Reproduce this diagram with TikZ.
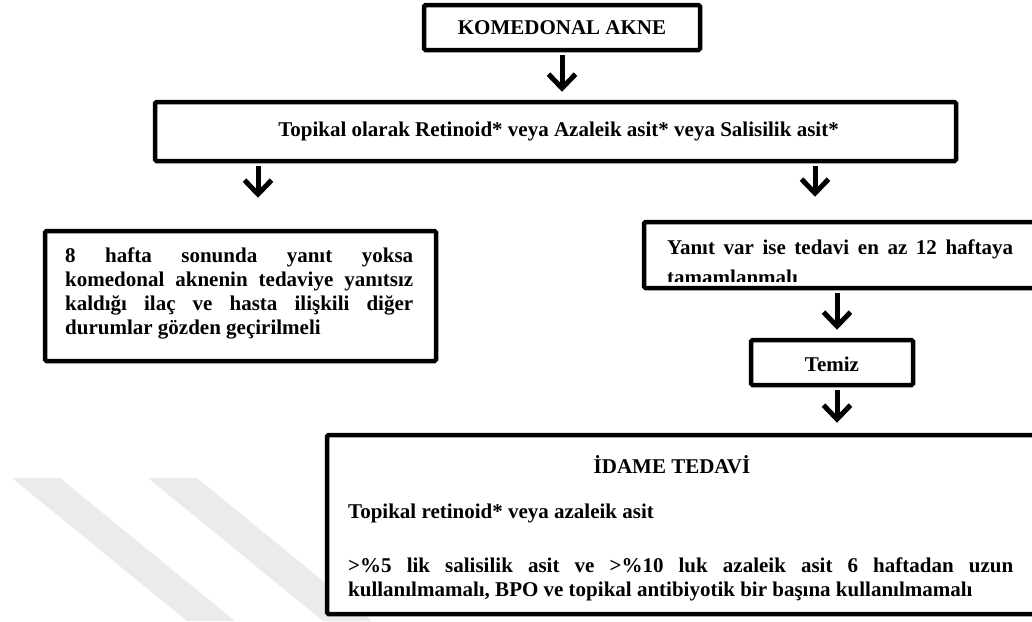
\documentclass[tikz,border=0pt]{standalone}
\usepackage{fontspec}
\setmainfont{Liberation Serif}
\usetikzlibrary{arrows.meta}
\begin{document}
\begin{tikzpicture}[x=1pt,y=-1pt,
  box/.style={draw, fill=white, line width=4.5pt, rounded corners=1.5pt, inner sep=0pt},
  txt/.style={font=\fontsize{21}{24}\selectfont\bfseries, inner sep=0pt},
  flow/.style={line width=5pt, -{Straight Barb[length=14pt,width=27pt]}},
  wmband/.style={fill=black!8, draw=none}
]
\useasboundingbox (0,0) rectangle (1032,621);
% faint watermark bands
\fill[wmband] (12,478) -- (60,478) -- (235,621) -- (187,621) -- cycle;
\fill[wmband] (148,478) -- (197,478) -- (372,621) -- (323,621) -- cycle;

% boxes
\node[box, minimum width=276pt, minimum height=45pt] (b1) at (562,27.5) {};
\node[box, minimum width=801pt, minimum height=59pt] (b2) at (555.5,131.5) {};
\node[box, minimum width=391pt, minimum height=130pt] (b3) at (240.5,296) {};
\node[box, minimum width=406pt, minimum height=66pt] (b4) at (847,255) {};
\node[box, minimum width=162pt, minimum height=45pt] (b5) at (832,362.5) {};
\node[box, minimum width=723pt, minimum height=179pt] (b6) at (688.5,524.5) {};

% texts
\node[txt, anchor=base] (t1) at (562,34) {KOMEDONAL AKNE};
\node[txt, anchor=base] (t2) at (558.5,136) {Topikal olarak Retinoid* veya Azaleik asit* veya Salisilik asit*};

\node[txt, anchor=base west] (t3a) at (65,262) {\makebox[348pt][s]{8 hafta sonunda yanıt yoksa}};
\node[txt, anchor=base west] (t3b) at (65,286) {\makebox[348pt][s]{komedonal aknenin tedaviye yanıtsız}};
\node[txt, anchor=base west] (t3c) at (65,310) {\makebox[348pt][s]{kaldığı ilaç ve hasta ilişkili diğer}};
\node[txt, anchor=base west] (t3d) at (65,334) {durumlar gözden geçirilmeli};

\begin{scope}
\clip (646,224) rectangle (1032,281);
\node[txt, anchor=base west] (t4a) at (667,254) {\makebox[346pt][s]{Yanıt var ise tedavi en az 12 haftaya}};
\node[txt, anchor=base west] (t4b) at (667,284) {tamamlanmalı};
\end{scope}

\node[txt, anchor=base] (t5) at (832,371) {Temiz};

\node[txt, anchor=base] (t6a) at (672,473) {İDAME TEDAVİ};
\node[txt, anchor=base west] (t6b) at (348,518) {Topikal retinoid* veya azaleik asit};
\node[txt, anchor=base west] (t6c) at (348,572) {\makebox[665pt][s]{>\%5 lik salisilik asit ve >\%10 luk azaleik asit 6 haftadan uzun}};
\node[txt, anchor=base west] (t6d) at (348,596) {kullanılmamalı, BPO ve topikal antibiyotik bir başına kullanılmamalı};

% connectors
\coordinate (xL) at (258,0);
\coordinate (xR) at (815,0);
\coordinate (xT) at (837,0);
\draw[flow, shorten <=3pt, shorten >=8pt] (b1.south) -- (b1.south |- b2.north);
\draw[flow, shorten <=3pt, shorten >=31pt] (b2.south -| xL) -- (b3.north -| xL);
\draw[flow, shorten <=3pt, shorten >=23pt] (b2.south -| xR) -- (b4.north -| xR);
\draw[flow, shorten <=3pt, shorten >=8pt] (b4.south -| xT) -- (b5.north -| xT);
\draw[flow, shorten <=3pt, shorten >=10pt] (b5.south -| xT) -- (b6.north -| xT);
\end{tikzpicture}
\end{document}
